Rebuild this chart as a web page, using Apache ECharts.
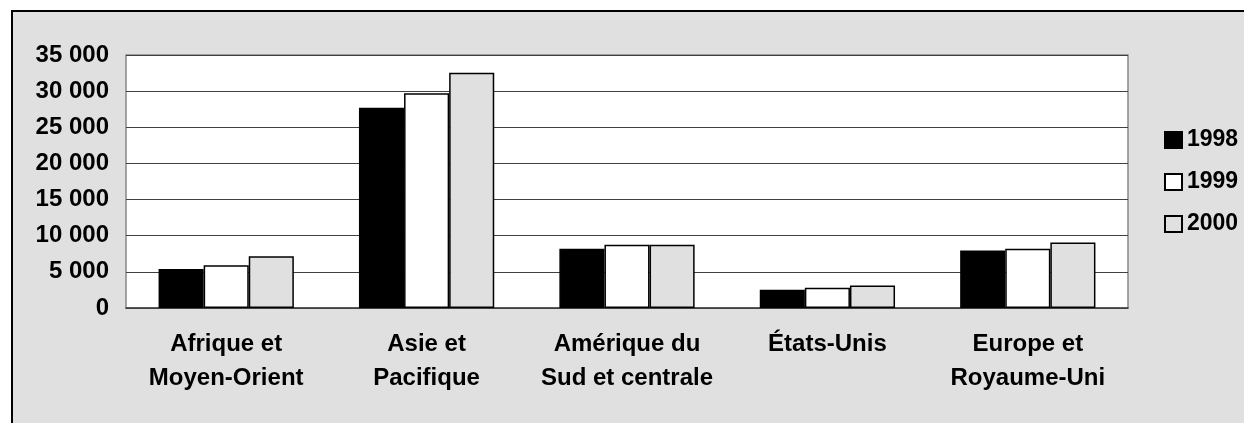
<!DOCTYPE html>
<html>
<head>
<meta charset="utf-8">
<script src="https://cdn.jsdelivr.net/npm/echarts@6/dist/echarts.min.js"></script>
<style>
html, body { margin: 0; padding: 0; background: #fff; }
#frame {
	position: absolute; left: 11px; top: 10px;
	width: 1400px; height: 600px;
	background: #e0e0e0; border: 2px solid #000;
}
#chart { position: absolute; left: 0; top: 0; width: 1244px; height: 423px; }
</style>
</head>
<body>
<div id="frame"></div>
<div id="chart"></div>
<script>
	// régions
	var categories = ['Afrique et\nMoyen-Orient', 'Asie et\nPacifique', 'Amérique du\nSud et centrale', 'États-Unis', 'Europe et\nRoyaume-Uni'];
	var years = ['1998', '1999', '2000'];
	var values1998 = [5400, 27700, 8200, 2530, 7950];
	var values1999 = [5900, 29700, 8750, 2800, 8200];
	var values2000 = [7150, 32550, 8750, 3120, 9050];
	var yTicks = [0, 5000, 10000, 15000, 20000, 25000, 30000, 35000];
	var barColors = ['#000000', '#ffffff', '#e0e0e0'];

	var font = "'Liberation Sans', Arial, sans-serif";
	var chart = echarts.init(document.getElementById('chart'), null, {renderer: 'canvas'});

	function fmt(v){
		return String(v).replace(/\B(?=(\d{3})+(?!\d))/g, ' ');
	}

	var seriesData = [values1998, values1999, values2000];
	var series = [];
	for (var i = 0; i < years.length; i++) {
		series.push({
			name: years[i],
			type: 'bar',
			data: seriesData[i],
			barGap: '0%',
			barCategoryGap: '32.5%',
			itemStyle: {
				color: barColors[i],
				borderColor: '#000',
				borderWidth: 1.5
			}
		});
	}

	chart.setOption({
		backgroundColor: 'transparent',
		animation: false,
		grid: {
			left: 126, top: 55, right: 116, bottom: 115,
			show: true,
			backgroundColor: '#fff',
			borderColor: '#888',
			borderWidth: 1.5
		},
		legend: {
			data: years,
			orient: 'vertical',
			left: 1164,
			top: 128,
			padding: 0,
			itemWidth: 17,
			itemHeight: 16,
			itemGap: 18,
			icon: 'rect',
			textStyle: {
				fontFamily: font, fontWeight: 'bold', fontSize: 23,
				color: '#000', lineHeight: 24
			}
		},
		xAxis: {
			type: 'category',
			data: categories,
			axisTick: {show: false},
			axisLine: {show: true, lineStyle: {color: '#404040', width: 1.5}},
			axisLabel: {
				margin: 19,
				interval: 0,
				fontFamily: font, fontWeight: 'bold', fontSize: 24,
				lineHeight: 34, color: '#000'
			}
		},
		yAxis: {
			type: 'value',
			min: yTicks[0],
			max: yTicks[yTicks.length - 1],
			interval: 5000,
			axisLine: {show: false},
			axisTick: {show: false},
			splitLine: {lineStyle: {color: '#404040', width: 1}},
			axisLabel: {
				margin: 17,
				fontFamily: font, fontWeight: 'bold', fontSize: 24,
				color: '#000',
				formatter: function(v){ return fmt(v); }
			}
		},
		series: series
	});
</script>
</body>
</html>
